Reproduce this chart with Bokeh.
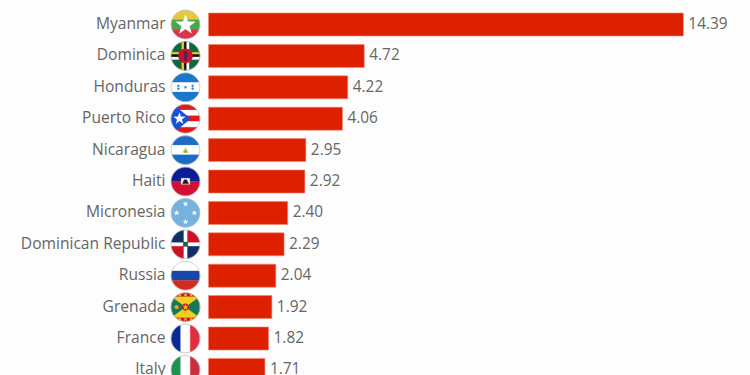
import numpy as np
from bokeh.embed import file_html
from bokeh.models import ColumnDataSource, Range1d
from bokeh.plotting import figure
from bokeh.resources import INLINE
from bokeh.core.properties import value

countries = ["Myanmar", "Dominica", "Honduras", "Puerto Rico", "Nicaragua", "Haiti",
             "Micronesia", "Dominican Republic", "Russia", "Grenada", "France", "Italy"]
rates = [14.39, 4.72, 4.22, 4.06, 2.95, 2.92, 2.40, 2.29, 2.04, 1.92, 1.82, 1.71]
rate_labels = ["14.39", "4.72", "4.22", "4.06", "2.95", "2.92", "2.40", "2.29", "2.04", "1.92", "1.82", "1.71"]

W, H = 750, 375
OX, OY = 0, 0              # image px of the figure's top-left corner
X0, PXU = 208.0, 33.0      # image px of value zero, px per unit
Y0, STEP = 24.0, 31.4      # image px of first row centre, px per row
FLAG_X, R = 185.0, 14.3

def dx(px):
    return (px - X0) / PXU

def dy(py):
    return (py - Y0) / STEP

p = figure(width=W, height=H, output_backend="svg", toolbar_location=None,
           x_range=Range1d(dx(OX), dx(OX + W)), y_range=Range1d(dy(OY + H), dy(OY)),
           min_border=0, outline_line_color=None, background_fill_color="#fdfdfd",
           border_fill_color="#fdfdfd")
p.axis.visible = False
p.grid.visible = False
p.min_border_left = p.min_border_right = p.min_border_top = p.min_border_bottom = 0

rows = list(range(len(countries)))
src = ColumnDataSource(dict(y=rows, rate=rates, name=countries, lab=rate_labels,
                            xl=[dx(165)] * len(rows)))
p.hbar(y="y", left=0, right="rate", height=23 / STEP, source=src,
       fill_color="#dd2000", line_color="#f08a70", line_width=0.6)
p.text(x="xl", y="y", text="name", source=src, text_align="right", text_baseline="middle",
       y_offset=-1.5, text_font=value("Open Sans"), text_font_size="15.6px", text_color="#666666")
p.text(x="rate", y="y", text="lab", source=src, text_align="left", text_baseline="middle",
       x_offset=5, y_offset=-1.5, text_font=value("Open Sans"), text_font_size="15.4px",
       text_color="#666666")

# ---- flag drawing helpers; shapes in a unit disc, y pointing down ----
TH = np.linspace(0, 2 * np.pi, 90, endpoint=False)
CIRC = [(np.cos(t), np.sin(t)) for t in TH]

def clip(poly, convex):
    """Clip poly to a convex polygon given clockwise on screen (y down)."""
    out = poly
    n = len(convex)
    for i in range(n):
        a, b = convex[i], convex[(i + 1) % n]
        side = lambda q: (b[0] - a[0]) * (q[1] - a[1]) - (b[1] - a[1]) * (q[0] - a[0])
        new = []
        for j in range(len(out)):
            c, d = out[j], out[(j + 1) % len(out)]
            sc, sd = side(c), side(d)
            if sc >= 0:
                new.append(c)
            if sc * sd < 0:
                t = sc / (sc - sd)
                new.append((c[0] + t * (d[0] - c[0]), c[1] + t * (d[1] - c[1])))
        out = new
        if not out:
            return []
    return out

def shape(row, pts, color):
    if not pts:
        return
    yc = Y0 + STEP * row
    xs = [dx(FLAG_X + R * q[0]) for q in pts]
    ys = [dy(yc + R * q[1]) for q in pts]
    p.patch(xs, ys, fill_color=color, line_color=color, line_width=0.3)

def rect(x1, y1, x2, y2):
    return [(x1, y1), (x2, y1), (x2, y2), (x1, y2)]

def cliprect(row, x1, y1, x2, y2, color):
    shape(row, clip(CIRC, rect(x1, y1, x2, y2)), color)

def cliptri(row, pts, color):
    shape(row, clip(CIRC, pts), color)

def hstripes(row, colors):
    n = len(colors)
    for i, c in enumerate(colors):
        cliprect(row, -1, -1 + 2 * i / n, 1, -1 + 2 * (i + 1) / n, c)

def vstripes(row, colors):
    n = len(colors)
    for i, c in enumerate(colors):
        cliprect(row, -1 + 2 * i / n, -1, -1 + 2 * (i + 1) / n, 1, c)

def disc(row, cx, cy, r, color):
    shape(row, [(cx + r * q[0], cy + r * q[1]) for q in CIRC], color)

def star(row, cx, cy, r, color):
    pts = []
    for k in range(10):
        rr = r if k % 2 == 0 else r * 0.4
        a = -np.pi / 2 + k * np.pi / 5
        pts.append((cx + rr * np.cos(a), cy + rr * np.sin(a)))
    shape(row, pts, color)

def ring(row):
    yc = Y0 + STEP * row
    xs = [dx(FLAG_X + R * q[0]) for q in CIRC]
    ys = [dy(yc + R * q[1]) for q in CIRC]
    p.patch(xs, ys, fill_color=None, line_color="#b9b9b9", line_width=0.7)

# Myanmar
hstripes(0, ["#e6c83c", "#4aa84a", "#d9344a"])
star(0, 0, 0.03, 0.72, "#ffffff")
# Dominica
disc(1, 0, 0, 1, "#12663f")
cliprect(1, -1, -0.26, 1, -0.09, "#f0d02a")
cliprect(1, -1, -0.09, 1, 0.08, "#111111")
cliprect(1, -1, 0.08, 1, 0.25, "#ffffff")
cliprect(1, -0.26, -1, -0.09, 1, "#f0d02a")
cliprect(1, -0.09, -1, 0.08, 1, "#111111")
cliprect(1, 0.08, -1, 0.25, 1, "#ffffff")
disc(1, 0, 0, 0.5, "#c8102e")
cliprect(1, -0.08, -0.3, 0.08, 0.3, "#3a2a55")
# Honduras
hstripes(2, ["#1a78cc", "#ffffff", "#1a78cc"])
for cx, cy in [(-0.5, -0.1), (-0.5, 0.1), (0, 0), (0.5, -0.1), (0.5, 0.1)]:
    star(2, cx, cy, 0.1, "#1a78cc")
# Puerto Rico
hstripes(3, ["#e31818", "#ffffff", "#e31818", "#ffffff", "#e31818"])
cliptri(3, [(-1.1, -1.2), (0.35, 0), (-1.1, 1.2)], "#1450d8")
star(3, -0.42, 0, 0.42, "#ffffff")
# Nicaragua
hstripes(4, ["#1a6cc4", "#ffffff", "#1a6cc4"])
shape(4, [(0, -0.22), (0.22, 0.16), (-0.22, 0.16)], "#e4d46a")
shape(4, [(0, -0.02), (0.12, 0.16), (-0.12, 0.16)], "#6aa878")
# Haiti
hstripes(5, ["#0a1f96", "#d21034"])
cliprect(5, -0.3, -0.22, 0.3, 0.2, "#ffffff")
shape(5, [(-0.22, 0.16), (-0.1, -0.12), (0.1, -0.12), (0.22, 0.16)], "#222222")
# Micronesia
disc(6, 0, 0, 1, "#75b2dd")
for cx, cy in [(0, -0.62), (0.62, 0), (0, 0.62), (-0.62, 0)]:
    star(6, cx, cy, 0.18, "#ffffff")
# Dominican Republic
disc(7, 0, 0, 1, "#ffffff")
cliprect(7, -1, -1, -0.14, -0.14, "#0f2f66")
cliprect(7, 0.14, -1, 1, -0.14, "#ce1126")
cliprect(7, -1, 0.14, -0.14, 1, "#ce1126")
cliprect(7, 0.14, 0.14, 1, 1, "#0f2f66")
cliprect(7, -0.16, -0.16, 0.16, 0.16, "#1f5f3a")
# Russia
hstripes(8, ["#ffffff", "#1a46a8", "#d52b1e"])
# Grenada
disc(9, 0, 0, 1, "#ce1126")
cliprect(9, -1, -0.72, 1, 0.72, "#f0d020")
cliptri(9, [(-1, -0.72), (0, 0), (-1, 0.72)], "#14785a")
cliptri(9, [(1, 0.72), (0, 0), (1, -0.72)], "#14785a")
disc(9, 0, 0, 0.24, "#ce1126")
star(9, 0, 0, 0.2, "#f0d020")
disc(9, -0.62, 0, 0.14, "#e8a33d")
for cx in (-0.4, 0, 0.4):
    star(9, cx, -0.85, 0.12, "#f0d020")
    star(9, cx, 0.85, 0.12, "#f0d020")
# France
vstripes(10, ["#0a2a96", "#ffffff", "#e03040"])
# Italy
vstripes(11, ["#1a9450", "#ffffff", "#c83040"])

for r in rows:
    ring(r)

open("out.html", "w").write(file_html(p, INLINE))
